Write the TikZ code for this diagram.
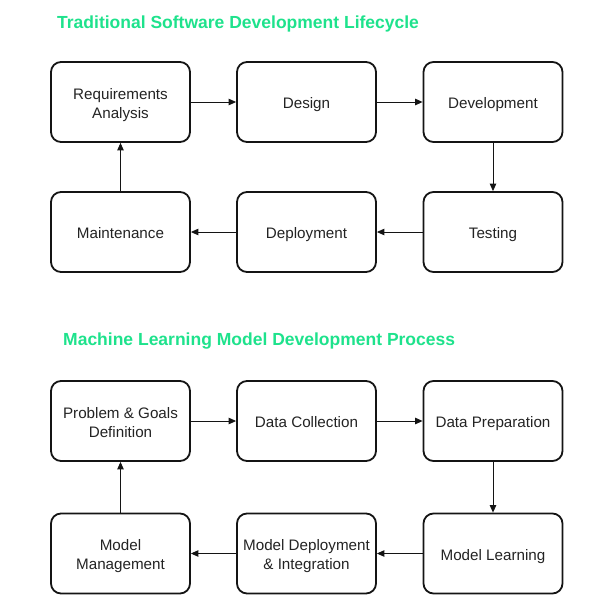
\documentclass[tikz,border=0pt]{standalone}
\usepackage{fontspec}
\setmainfont{Liberation Sans}
\usetikzlibrary{arrows.meta}
\definecolor{titlegreen}{RGB}{30,226,140}
\definecolor{boxline}{RGB}{20,20,20}
\definecolor{txt}{RGB}{35,35,35}
\begin{document}
\begin{tikzpicture}[x=1pt,y=-1pt,
  stage/.style={draw=boxline,line width=1.8pt,rounded corners=10pt,minimum width=139pt,minimum height=80pt,align=center,font=\fontsize{15.2}{19}\selectfont,text=txt,inner sep=1pt,execute at begin node={\rule{0pt}{16.5pt}},execute at end node={\rule[-3pt]{0pt}{3pt}}},
  twoline/.style={stage,execute at begin node={\rule{0pt}{36pt}}},
  flow/.style={draw=boxline,line width=0.9pt,-{Triangle[length=7.5pt,width=6.5pt]}},
  heading/.style={anchor=base west,font=\bfseries\fontsize{17.5}{20}\selectfont,text=titlegreen,inner sep=0pt}]
\useasboundingbox (0,0) rectangle (599,611);
\node[heading] (t1) at (57,28) {Traditional Software Development Lifecycle};
\node[twoline] (a1) at (120.5,102) {Requirements\\Analysis};
\node[stage] (a2) at (306.5,102) {Design};
\node[stage] (a3) at (493,102) {Development};
\node[stage] (a4) at (493,232) {Testing};
\node[stage] (a5) at (306.5,232) {Deployment};
\node[stage] (a6) at (120.5,232) {Maintenance};
\draw[flow] (a1) -- (a2);
\draw[flow] (a2) -- (a3);
\draw[flow] (a3) -- (a4);
\draw[flow] (a4) -- (a5);
\draw[flow] (a5) -- (a6);
\draw[flow] (a6) -- (a1);
\node[heading] (t2) at (63,345) {Machine Learning Model Development Process};
\node[twoline] (b1) at (120.5,421) {Problem \& Goals\\Definition};
\node[stage] (b2) at (306.5,421) {Data Collection};
\node[stage] (b3) at (493,421) {Data Preparation};
\node[stage] (b4) at (493,553.5) {Model Learning};
\node[twoline] (b5) at (306.5,553.5) {Model Deployment\\\& Integration};
\node[twoline] (b6) at (120.5,553.5) {Model\\Management};
\draw[flow] (b1) -- (b2);
\draw[flow] (b2) -- (b3);
\draw[flow] (b3) -- (b4);
\draw[flow] (b4) -- (b5);
\draw[flow] (b5) -- (b6);
\draw[flow] (b6) -- (b1);
\end{tikzpicture}
\end{document}
